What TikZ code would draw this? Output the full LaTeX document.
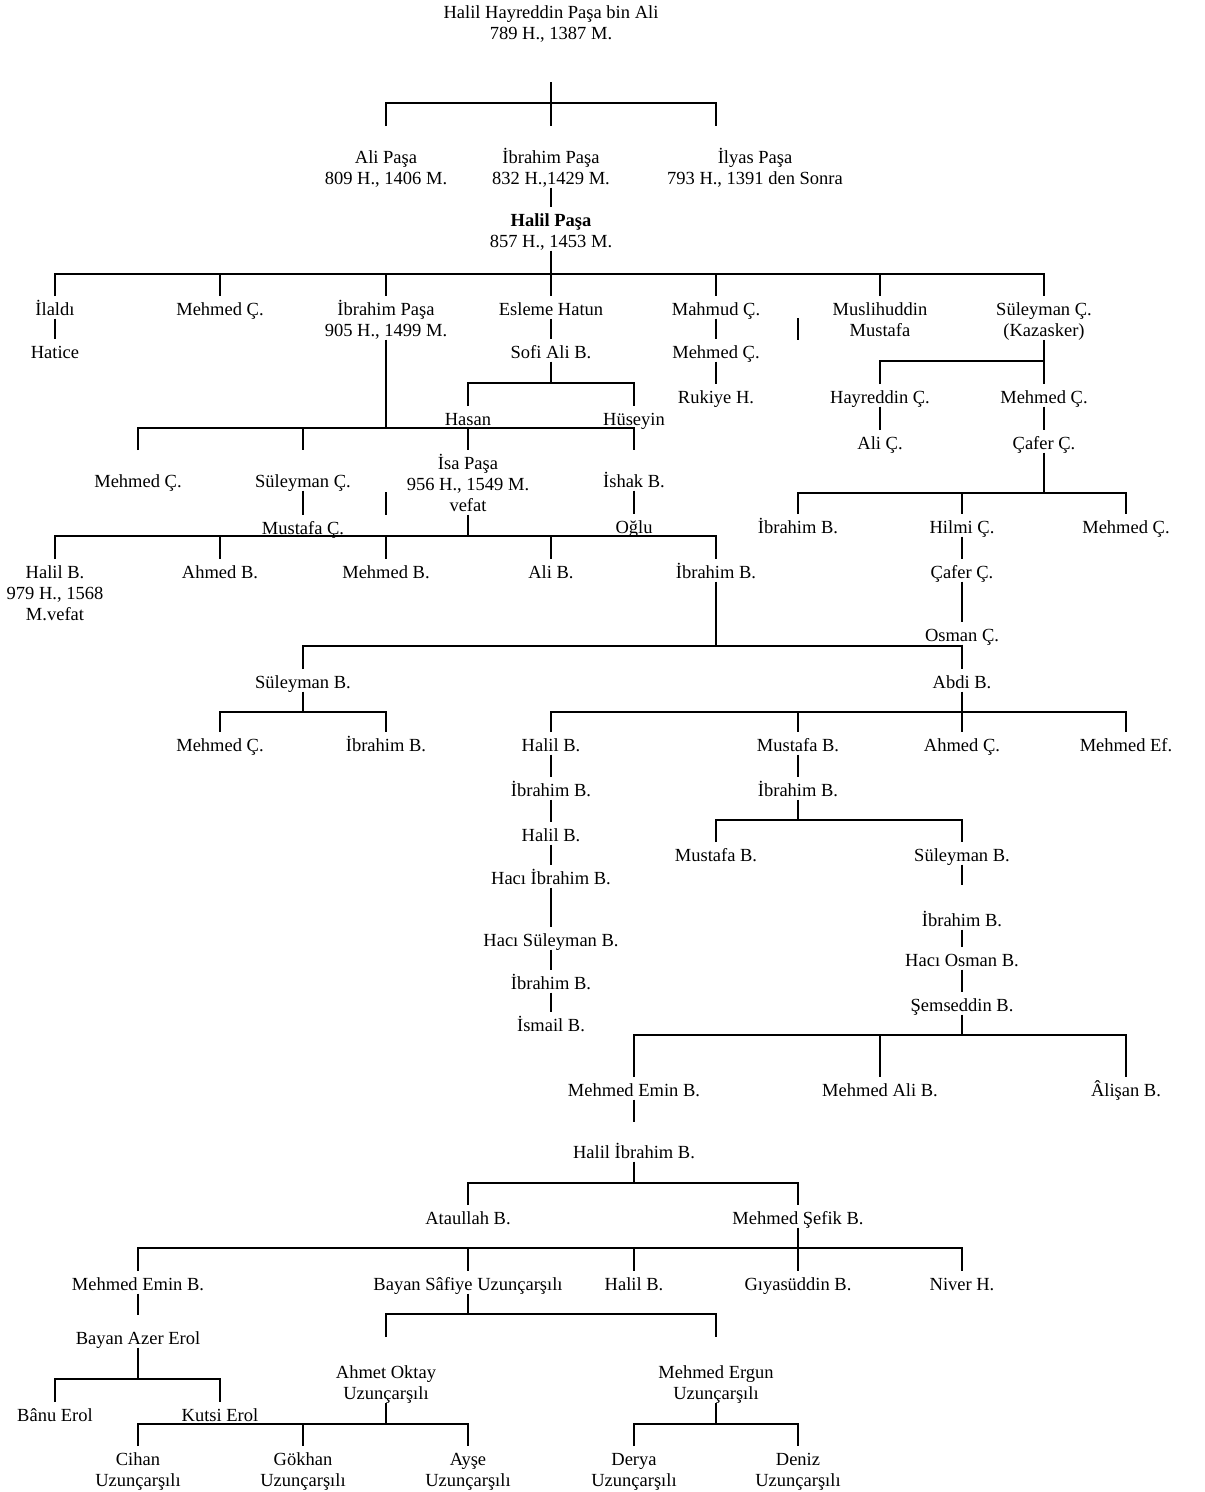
\documentclass[tikz,border=0pt]{standalone}
\usepackage{fontspec}
\setmainfont{Liberation Serif}
\newcommand\tstr{\rule{0pt}{19pt}}
\newcommand\bstr{\rule[-3.5pt]{0pt}{3.5pt}}
\begin{document}
\begin{tikzpicture}[x=1pt,y=-1pt,line width=2pt,
  every node/.style={font=\fontsize{18.5}{21}\selectfont, inner sep=0pt, outer sep=0pt, anchor=north},
  p/.style={text height=19pt, text depth=3.5pt},
  m/.style={align=center}]
\useasboundingbox (0,0) rectangle (1205,1492);
% ---------- nodes ----------
\node[m] (root) at (551,-1) {\tstr Halil Hayreddin Paşa bin Ali\\789 H., 1387 M.\bstr};
\node[m] (aliP) at (386,144) {\tstr Ali Paşa\\809 H., 1406 M.\bstr};
\node[m] (ibrP1) at (551,144) {\tstr İbrahim Paşa\\832 H.,1429 M.\bstr};
\node[m] (ilyas) at (755,144) {\tstr İlyas Paşa\\793 H., 1391 den Sonra\bstr};
\node[m] (halilP) at (551,207) {\tstr\textbf{Halil Paşa}\\857 H., 1453 M.\bstr};
\node[p] (ilaldi) at (55,296) {İlaldı};
\node[p] (mehC1) at (220,296) {Mehmed Ç.};
\node[m] (ibrP2) at (386,296) {\tstr İbrahim Paşa\\905 H., 1499 M.\bstr};
\node[p] (esleme) at (551,296) {Esleme Hatun};
\node[p] (mahmud) at (716,296) {Mahmud Ç.};
\node[m] (muslih) at (880,296) {\tstr Muslihuddin\\Mustafa\bstr};
\node[m] (sulK) at (1044,296) {\tstr Süleyman Ç.\\(Kazasker)\bstr};
\node[p] (hatice) at (55,339) {Hatice};
\node[p] (sofi) at (551,339) {Sofi Ali B.};
\node[p] (mehC2) at (716,339) {Mehmed Ç.};
\node[p] (rukiye) at (716,384) {Rukiye H.};
\node[p] (hayr) at (880,384) {Hayreddin Ç.};
\node[p] (mehC3) at (1044,384) {Mehmed Ç.};
\node[p] (hasan) at (468,406) {Hasan};
\node[p] (huseyin) at (634,406) {Hüseyin};
\node[p] (aliC) at (880,430) {Ali Ç.};
\node[p] (cafer1) at (1044,430) {Çafer Ç.};
\node[p] (mehC4) at (138,468) {Mehmed Ç.};
\node[p] (sulC) at (303,468) {Süleyman Ç.};
\node[m] (isa) at (468,450) {\tstr İsa Paşa\\956 H., 1549 M.\\vefat\bstr};
\node[p] (ishak) at (634,468) {İshak B.};
\node[p] (mustC) at (303,515) {Mustafa Ç.};
\node[p] (oglu) at (634,514) {Oğlu};
\node[p] (ibrB1) at (798,514) {İbrahim B.};
\node[p] (hilmi) at (962,514) {Hilmi Ç.};
\node[p] (mehC5) at (1126,514) {Mehmed Ç.};
\node[m] (halilB1) at (55,559) {\tstr Halil B.\\979 H., 1568\\M.vefat\bstr};
\node[p] (ahmedB) at (220,559) {Ahmed B.};
\node[p] (mehB) at (386,559) {Mehmed B.};
\node[p] (aliB) at (551,559) {Ali B.};
\node[p] (ibrB2) at (716,559) {İbrahim B.};
\node[p] (cafer2) at (962,559) {Çafer Ç.};
\node[p] (osman) at (962,622) {Osman Ç.};
\node[p] (sulB1) at (303,669) {Süleyman B.};
\node[p] (abdi) at (962,669) {Abdi B.};
\node[p] (mehC6) at (220,732) {Mehmed Ç.};
\node[p] (ibrB3) at (386,732) {İbrahim B.};
\node[p] (halilB2) at (551,732) {Halil B.};
\node[p] (mustB1) at (798,732) {Mustafa B.};
\node[p] (ahmedC) at (962,732) {Ahmed Ç.};
\node[p] (mehEf) at (1126,732) {Mehmed Ef.};
\node[p] (ibrB4) at (551,777) {İbrahim B.};
\node[p] (halilB3) at (551,822) {Halil B.};
\node[p] (haciIbr) at (551,865) {Hacı İbrahim B.};
\node[p] (haciSul) at (551,927) {Hacı Süleyman B.};
\node[p] (ibrB5) at (551,970) {İbrahim B.};
\node[p] (ismail) at (551,1012) {İsmail B.};
\node[p] (ibrB6) at (798,777) {İbrahim B.};
\node[p] (mustB2) at (716,842) {Mustafa B.};
\node[p] (sulB2) at (962,842) {Süleyman B.};
\node[p] (ibrB7) at (962,907) {İbrahim B.};
\node[p] (haciOsman) at (962,947) {Hacı Osman B.};
\node[p] (semsed) at (962,992) {Şemseddin B.};
\node[p] (mehEmin1) at (634,1077) {Mehmed Emin B.};
\node[p] (mehAli) at (880,1077) {Mehmed Ali B.};
\node[p] (alisan) at (1126,1077) {Âlişan B.};
\node[p] (halilIbr) at (634,1139) {Halil İbrahim B.};
\node[p] (ataullah) at (468,1205) {Ataullah B.};
\node[p] (sefik) at (798,1205) {Mehmed Şefik B.};
\node[p] (mehEmin2) at (138,1271) {Mehmed Emin B.};
\node[p] (safiye) at (468,1271) {Bayan Sâfiye Uzunçarşılı};
\node[p] (halilB4) at (634,1271) {Halil B.};
\node[p] (giyas) at (798,1271) {Gıyasüddin B.};
\node[p] (niver) at (962,1271) {Niver H.};
\node[p] (azer) at (138,1325) {Bayan Azer Erol};
\node[p] (banu) at (55,1402) {Bânu Erol};
\node[p] (kutsi) at (220,1402) {Kutsi Erol};
\node[m] (oktay) at (386,1359) {\tstr Ahmet Oktay\\Uzunçarşılı\bstr};
\node[m] (ergun) at (716,1359) {\tstr Mehmed Ergun\\Uzunçarşılı\bstr};
\node[m] (cihan) at (138,1446) {\tstr Cihan\\Uzunçarşılı\bstr};
\node[m] (gokhan) at (303,1446) {\tstr Gökhan\\Uzunçarşılı\bstr};
\node[m] (ayse) at (468,1446) {\tstr Ayşe\\Uzunçarşılı\bstr};
\node[m] (derya) at (634,1446) {\tstr Derya\\Uzunçarşılı\bstr};
\node[m] (deniz) at (798,1446) {\tstr Deniz\\Uzunçarşılı\bstr};
% ---------- bar levels ----------
\coordinate (b1) at (0,103);
\coordinate (b2) at (0,274);
\coordinate (b3) at (0,361);
\coordinate (b4) at (0,493);
\coordinate (b5) at (0,383);
\coordinate (b6) at (0,428);
\coordinate (b7) at (0,536);
\coordinate (b8) at (0,646);
\coordinate (b9) at (0,712);
\coordinate (b10) at (0,820);
\coordinate (b11) at (0,1035);
\coordinate (b12) at (0,1183);
\coordinate (b13) at (0,1248);
\coordinate (b14) at (0,1379);
\coordinate (b15) at (0,1314);
\coordinate (b16) at (0,1424);
\coordinate (ilyasEnd) at (716,126);
\coordinate (stray1) at (798,318);
\coordinate (stray2) at (386,492);
% ---------- connectors ----------
\draw[shorten <=39.5pt] (root.south) -- (root.south |- b1);
\draw[shorten <=18pt] (aliP.north) |- (ilyasEnd |- b1) -- (ilyasEnd);
\draw[shorten >=18pt] (ibrP1.north |- b1) -- (ibrP1.north);
\draw (ibrP1.south) -- (halilP.north);
\draw (halilP.south) -- (halilP.south |- b2);
\draw (ilaldi.north) |- (sulK.north |- b2) -- (sulK.north);
\foreach \n in {mehC1,ibrP2,esleme,mahmud,muslih} \draw (\n.north |- b2) -- (\n.north);
\draw (stray1) -- ++(0,22);
\draw (ilaldi.south) -- (hatice.north);
\draw (esleme.south) -- (sofi.north);
\draw (mahmud.south) -- (mehC2.north);
\draw (mehC2.south) -- (rukiye.north);
\draw (sulK.south) -- (sulK.south |- b3);
\draw (hayr.north) |- (mehC3.north |- b3) -- (mehC3.north);
\draw (hayr.south) -- (aliC.north);
\draw (mehC3.south) -- (cafer1.north);
\draw (cafer1.south) -- (cafer1.south |- b4);
\draw (ibrB1.north) |- (mehC5.north |- b4) -- (mehC5.north);
\draw (hilmi.north |- b4) -- (hilmi.north);
\draw (sofi.south) -- (sofi.south |- b5);
\draw (hasan.north) |- (huseyin.north |- b5) -- (huseyin.north);
\draw (ibrP2.south) -- (ibrP2.south |- b6);
\draw[shorten <=18pt, shorten >=18pt] (mehC4.north) |- (ishak.north |- b6) -- (ishak.north);
\draw[shorten >=18pt] (sulC.north |- b6) -- (sulC.north);
\draw (hasan.south) -- (isa.north);
\draw (sulC.south) -- (mustC.north);
\draw (stray2) -- ++(0,23);
\draw (ishak.south) -- (oglu.north);
\draw (isa.south) -- (isa.south |- b7);
\draw (halilB1.north) |- (ibrB2.north |- b7) -- (ibrB2.north);
\foreach \n in {ahmedB,mehB,aliB} \draw (\n.north |- b7) -- (\n.north);
\draw (hilmi.south) -- (cafer2.north);
\draw (cafer2.south) -- (osman.north);
\draw (ibrB2.south) -- (ibrB2.south |- b8);
\draw (sulB1.north) |- (abdi.north |- b8);
\draw (osman.south) -- (abdi.north);
\draw (sulB1.south) -- (sulB1.south |- b9);
\draw (mehC6.north) |- (ibrB3.north |- b9) -- (ibrB3.north);
\draw (abdi.south) -- (abdi.south |- b9);
\draw (halilB2.north) |- (mehEf.north |- b9) -- (mehEf.north);
\foreach \n in {mustB1,ahmedC} \draw (\n.north |- b9) -- (\n.north);
\draw (halilB2.south) -- (ibrB4.north);
\draw (ibrB4.south) -- (halilB3.north);
\draw (halilB3.south) -- (haciIbr.north);
\draw (haciIbr.south) -- (haciSul.north);
\draw (haciSul.south) -- (ibrB5.north);
\draw (ibrB5.south) -- (ismail.north);
\draw (mustB1.south) -- (ibrB6.north);
\draw (ibrB6.south) -- (ibrB6.south |- b10);
\draw (mustB2.north) |- (sulB2.north |- b10) -- (sulB2.north);
\draw[shorten >=22pt] (sulB2.south) -- (ibrB7.north);
\draw (ibrB7.south) -- (haciOsman.north);
\draw (haciOsman.south) -- (semsed.north);
\draw (semsed.south) -- (semsed.south |- b11);
\draw (mehEmin1.north) |- (alisan.north |- b11) -- (alisan.north);
\draw (mehAli.north |- b11) -- (mehAli.north);
\draw[shorten >=17pt] (mehEmin1.south) -- (halilIbr.north);
\draw (halilIbr.south) -- (halilIbr.south |- b12);
\draw (ataullah.north) |- (sefik.north |- b12) -- (sefik.north);
\draw (sefik.south) -- (sefik.south |- b13);
\draw (mehEmin2.north) |- (niver.north |- b13) -- (niver.north);
\foreach \n in {safiye,halilB4,giyas} \draw (\n.north |- b13) -- (\n.north);
\draw[shorten >=10pt] (mehEmin2.south) -- (azer.north);
\draw (azer.south) -- (azer.south |- b14);
\draw (banu.north) |- (kutsi.north |- b14) -- (kutsi.north);
\draw (safiye.south) -- (safiye.south |- b15);
\draw[shorten <=22pt, shorten >=22pt] (oktay.north) |- (ergun.north |- b15) -- (ergun.north);
\draw (oktay.south) -- (oktay.south |- b16);
\draw (cihan.north) |- (ayse.north |- b16) -- (ayse.north);
\draw (gokhan.north |- b16) -- (gokhan.north);
\draw (ergun.south) -- (ergun.south |- b16);
\draw (derya.north) |- (deniz.north |- b16) -- (deniz.north);
\end{tikzpicture}
\end{document}
